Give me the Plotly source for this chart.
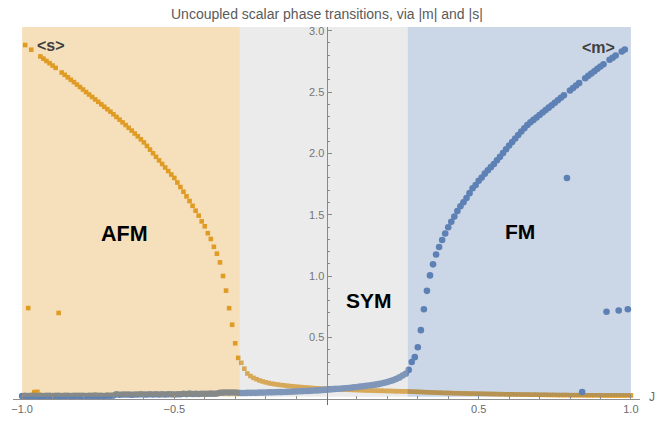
import plotly.graph_objects as go

# Sampled coupling grid J = -1.00 ... 1.00 (step 0.01)
J = [round(-1 + i / 100, 2) for i in range(201)]

# <s>  (|s|, orange squares), by region
s_afm = [None, 2.883, 0.740, 2.845, 0.055, 0.057, 2.790, 2.772, 2.753, 2.735,
         2.716, 2.697, 0.700, 2.659, 2.640, 2.620, 2.600, 2.581, 2.561, 2.541,
         2.521, 2.500, 2.480, 2.460, 2.440, 2.420, 2.400, 2.380, 2.360, 2.340,
         2.319, 2.297, 2.275, 2.253, 2.231, 2.209, 2.186, 2.162, 2.139, 2.115,
         2.090, 2.061, 2.031, 2.001, 1.972, 1.943, 1.914, 1.885, 1.856, 1.828,
         1.800, 1.763, 1.726, 1.688, 1.650, 1.612, 1.573, 1.533, 1.493, 1.446,
         1.406, 1.350, 1.303, 1.239, 1.183, 1.112, 1.001, 0.882, 0.739, 0.604,
         0.453, 0.334]
s_sym = [0.294, 0.246, 0.207, 0.186, 0.171, 0.160, 0.150, 0.142, 0.135, 0.129,
         0.124, 0.120, 0.116, 0.113, 0.110, 0.107, 0.104, 0.102, 0.099, 0.097,
         0.095, 0.093, 0.091, 0.089, 0.087, 0.086, 0.084, 0.083, 0.082,
         0.081, 0.080, 0.079, 0.078, 0.077, 0.076, 0.075, 0.074, 0.073, 0.072,
         0.071, 0.070, 0.069, 0.068, 0.068, 0.067, 0.066, 0.066, 0.065, 0.064,
         0.064, 0.063, 0.062, 0.062, 0.061, 0.061, 0.060]
s_fm = [0.059, 0.058, 0.057, 0.056, 0.055, 0.054, 0.053, 0.052, 0.051, 0.050,
        0.049, 0.048, 0.048, 0.047, 0.046, 0.046, 0.045, 0.044, 0.044, 0.043,
        0.043, 0.042, 0.042, 0.041, 0.041, 0.040, 0.040, 0.039, 0.039, 0.038,
        0.038, 0.037, 0.037, 0.037, 0.036, 0.036, 0.035, 0.035, 0.035, 0.034,
        0.034, 0.034, 0.033, 0.033, 0.033, 0.032, 0.032, 0.032, 0.031, 0.031,
        0.031, 0.031, 0.030, 0.030, 0.030, 0.030, 0.030, 0.029, 0.029, 0.029,
        0.029, 0.029, 0.029, 0.028, 0.028, 0.028, 0.028, 0.028, 0.028, 0.028,
        0.028, 0.028, 0.028]

# <m>  (|m|, blue circles)
m_afm = [0.023, 0.024, 0.022, 0.024, 0.025, 0.023, 0.024, 0.022, 0.025, 0.024,
         0.023, 0.025, 0.024, 0.022, 0.024, 0.025, 0.023, 0.024, 0.025, 0.024,
         0.024, 0.023, 0.025, 0.024, 0.026, 0.024, 0.025, 0.023, 0.026, 0.025,
         0.028, 0.038, 0.034, 0.036, 0.035, 0.036, 0.034, 0.036, 0.035, 0.037,
         0.036, 0.035, 0.037, 0.036, 0.038, 0.036, 0.037, 0.036, 0.038, 0.037,
         0.036, 0.038, 0.037, 0.042, 0.039, 0.043, 0.040, 0.041, 0.040, 0.042,
         0.041, 0.042, 0.043, 0.042, 0.044, 0.050, 0.051, 0.052, 0.051, 0.052,
         0.052, 0.050]
m_sym = [0.048, 0.048, 0.049, 0.049, 0.050, 0.050, 0.051, 0.051, 0.052, 0.053,
         0.053, 0.054, 0.055, 0.055, 0.056, 0.057, 0.058, 0.059, 0.060, 0.062,
         0.063, 0.064, 0.065, 0.066, 0.068, 0.069, 0.071, 0.073, 0.075,
         0.077, 0.079, 0.081, 0.083, 0.085, 0.087, 0.089, 0.091, 0.094, 0.097,
         0.100, 0.103, 0.106, 0.109, 0.112, 0.116, 0.120, 0.125, 0.131, 0.137,
         0.145, 0.153, 0.163, 0.175, 0.190, 0.205, 0.236]
m_fm = [0.300, 0.340, 0.420, 0.560, 0.730, 0.880, 1.006, 1.096, 1.176, 1.237,
        1.295, 1.348, 1.398, 1.443, 1.485, 1.531, 1.570, 1.602, 1.636, 1.676,
        1.716, 1.743, 1.777, 1.803, 1.835, 1.862, 1.888, 1.914, 1.944, 1.972,
        2.003, 2.034, 2.064, 2.093, 2.122, 2.150, 2.178, 2.205, 2.231, 2.253,
        2.273, 2.293, 2.313, 2.333, 2.353, 2.373, 2.393, 2.413, 2.433, 2.453,
        2.473, 1.800, 2.513, 2.533, 2.553, 2.573, 0.056, 2.613, 2.632, 2.651,
        2.670, 2.689, 2.708, 2.727, 0.710, 2.763, 2.780, 2.797, 0.720, 2.830,
        2.846, 0.730, None]

s_vals = s_afm + s_sym + s_fm
m_vals = m_afm + m_sym + m_fm
assert len(s_vals) == len(J) == len(m_vals)

# phase boundaries
J_afm_sym = -0.285
J_sym_fm = 0.267

X_RANGE = [-1.03, 1.03]
Y_RANGE = [-0.05, 3.03]

FONT = "Liberation Sans, Arial, sans-serif"
ORANGE = "#E09C24"
BLUE = "#5E81B5"
AXIS = "#6e6e6e"
TICKFONT = dict(family=FONT, size=11, color="#4f4f4f")

fig = go.Figure()
fig.add_trace(go.Scatter(
    x=J, y=s_vals, mode="markers", cliponaxis=False, showlegend=False,
    marker=dict(symbol="square", size=4.6, color=ORANGE, line=dict(width=0))))
fig.add_trace(go.Scatter(
    x=J, y=m_vals, mode="markers", cliponaxis=False, showlegend=False,
    marker=dict(symbol="circle", size=6.6, color=BLUE, line=dict(width=0))))

regions = [(-1.0, J_afm_sym, "rgba(224,156,36,0.31)"),
           (J_afm_sym, J_sym_fm, "rgba(194,194,194,0.33)"),
           (J_sym_fm, 1.0, "rgba(94,129,181,0.32)")]
for x0, x1, col in regions:
    fig.add_shape(type="rect", xref="x", yref="y", x0=x0, x1=x1,
                  y0=0.017, y1=Y_RANGE[1], fillcolor=col,
                  line=dict(width=0), layer="above")

x_major = [-1.0, -0.5, 0.5, 1.0]
x_minor = [round(-1 + i / 10, 1) for i in range(21)]
x_minor = [v for v in x_minor if v not in x_major and v != 0]
y_major = [0.5, 1.0, 1.5, 2.0, 2.5, 3.0]
y_minor = [round(i / 10, 1) for i in range(1, 31)]
y_minor = [v for v in y_minor if v not in y_major]

fig.update_xaxes(
    range=X_RANGE, anchor="free",
    position=(0 - Y_RANGE[0]) / (Y_RANGE[1] - Y_RANGE[0]),
    showline=True, linecolor="#8f8f8f", linewidth=1, showgrid=False, zeroline=False,
    tickmode="array", tickvals=x_major,
    ticktext=["\u22121.0", "\u22120.5", "0.5", "1.0"],
    ticks="inside", ticklen=4, tickcolor="#8f8f8f",
    tickfont=dict(family=FONT, size=11, color="#6a6a6a"),
    minor=dict(tickmode="array", tickvals=x_minor, ticks="inside",
               ticklen=2.5, tickcolor="#8f8f8f", showgrid=False))
fig.update_yaxes(
    range=Y_RANGE, anchor="free",
    position=(0 - X_RANGE[0]) / (X_RANGE[1] - X_RANGE[0]), side="left",
    showline=True, linecolor=AXIS, linewidth=1, showgrid=False, zeroline=False,
    tickmode="array", tickvals=y_major,
    ticktext=["0.5", "1.0", "1.5", "2.0", "2.5", "3.0"],
    ticks="inside", ticklen=4, tickcolor=AXIS, tickfont=TICKFONT,
    minor=dict(tickmode="array", tickvals=y_minor, ticks="inside",
               ticklen=2.5, tickcolor=AXIS, showgrid=False))

annos = [
    dict(text="<b>AFM</b>", x=-0.663, y=1.34, size=21.5, color="black"),
    dict(text="<b>SYM</b>", x=0.138, y=0.80, size=21, color="black"),
    dict(text="<b>FM</b>", x=0.637, y=1.36, size=21, color="black"),
    dict(text="<b>&lt;s&gt;</b>", x=-0.906, y=2.88, size=16, color="#404040"),
    dict(text="<b>&lt;m&gt;</b>", x=0.893, y=2.867, size=16, color="#404040"),
]
for a in annos:
    fig.add_annotation(text=a["text"], x=a["x"], y=a["y"], xref="x", yref="y",
                       showarrow=False, xanchor="center", yanchor="middle",
                       font=dict(family=FONT, size=a["size"], color=a["color"]))

fig.add_annotation(text="J", xref="paper", yref="y", x=1.019, y=0.015,
                   showarrow=False, xanchor="center", yanchor="middle",
                   font=dict(family=FONT, size=12, color="#6a6a6a"))
fig.add_annotation(text="Uncoupled scalar phase transitions, via |m| and |s|",
                   xref="paper", yref="paper", x=0.5, y=1 + 13 / 388,
                   showarrow=False, xanchor="center", yanchor="middle",
                   font=dict(family=FONT, size=14, color="#5a5a5a"))

fig.update_layout(
    width=667, height=426,
    margin=dict(l=13, r=27, t=27, b=11),
    paper_bgcolor="white", plot_bgcolor="white",
    showlegend=False,
)

fig.write_html("out.html")
